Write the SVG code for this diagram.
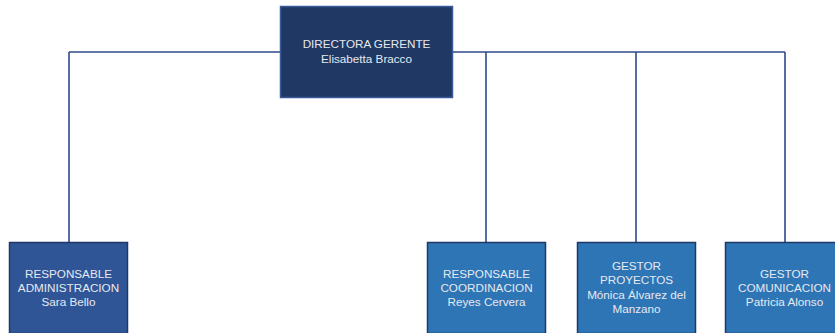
<svg xmlns="http://www.w3.org/2000/svg" width="835" height="333" viewBox="0 0 835 333">
<style>
.box{stroke-width:1.5}
.t{font-family:"Liberation Sans",Arial,sans-serif;font-size:11.7px;fill:#E6E9EF;text-anchor:middle}
.c{fill:none;stroke:#2F4A8A;stroke-width:1.6}
</style>
<rect width="835" height="333" fill="#FFFFFF"/>
<g id="connectors">
<path class="c" d="M69,52 H785 M69,52 V242 M486,52 V242 M636,52 V242 M785,52 V242"/>
</g>
<g id="directora">
<rect class="box" x="280.5" y="6.5" width="172" height="91" fill="#1F3864" stroke="#3A5A9A"/>
<text class="t" x="366.5" y="48">DIRECTORA GERENTE</text>
<text class="t" x="366.5" y="63">Elisabetta Bracco</text>
</g>
<g id="administracion">
<rect class="box" x="9.5" y="242.5" width="118" height="91" fill="#2F5597" stroke="#1F3864"/>
<text class="t" x="68.5" y="278">RESPONSABLE</text>
<text class="t" x="68.5" y="292">ADMINISTRACION</text>
<text class="t" x="68.5" y="306">Sara Bello</text>
</g>
<g id="coordinacion">
<rect class="box" x="427.5" y="242.5" width="118" height="91" fill="#2E75B6" stroke="#1F3864"/>
<text class="t" x="486.5" y="278">RESPONSABLE</text>
<text class="t" x="486.5" y="292">COORDINACION</text>
<text class="t" x="486.5" y="306">Reyes Cervera</text>
</g>
<g id="proyectos">
<rect class="box" x="577.5" y="242.5" width="118" height="91" fill="#2E75B6" stroke="#1F3864"/>
<text class="t" x="636.5" y="270">GESTOR</text>
<text class="t" x="636.5" y="284">PROYECTOS</text>
<text class="t" x="636.5" y="299">Mónica Álvarez del</text>
<text class="t" x="636.5" y="313">Manzano</text>
</g>
<g id="comunicacion">
<rect class="box" x="725.5" y="242.5" width="118" height="91" fill="#2E75B6" stroke="#1F3864"/>
<text class="t" x="784.5" y="278">GESTOR</text>
<text class="t" x="784.5" y="292">COMUNICACION</text>
<text class="t" x="784.5" y="306">Patricia Alonso</text>
</g>
</svg>
